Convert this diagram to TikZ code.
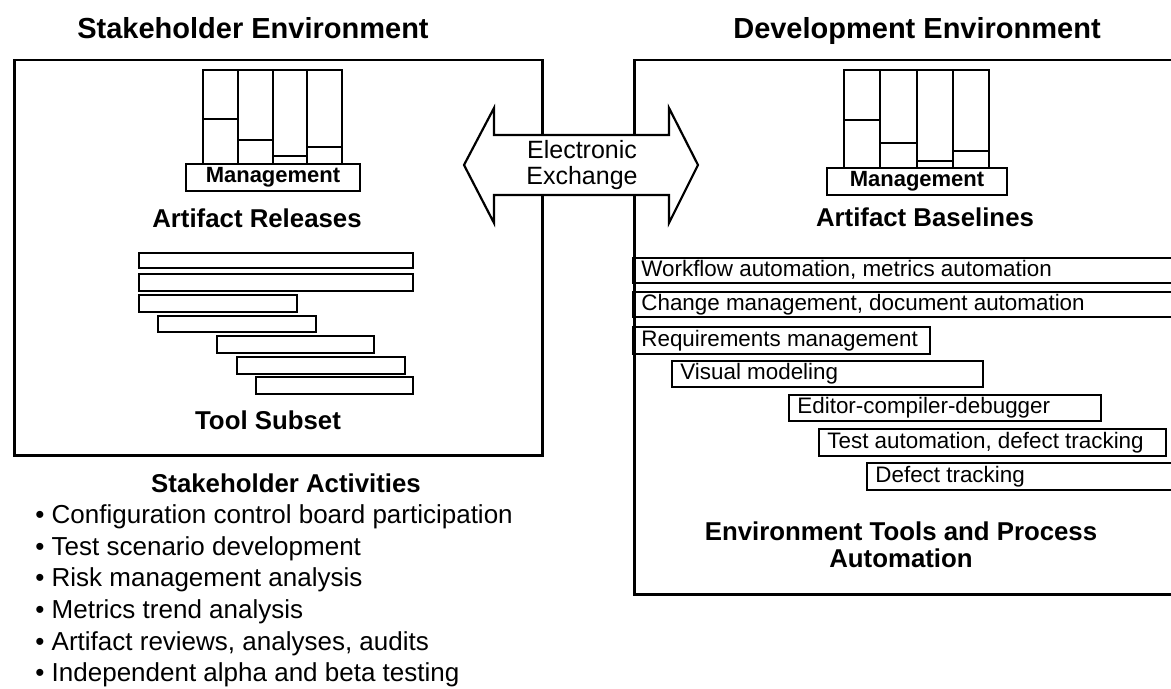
\documentclass[tikz,border=0pt]{standalone}
\usepackage{fontspec}
\setmainfont{Liberation Sans}
\usepackage{tikz}
\usetikzlibrary{positioning}

\begin{document}
\begin{tikzpicture}[
    x=0.5pt, y=-0.5pt,
    envbox/.style={draw, line width=1.25pt, anchor=north west},
    envtitle/.style={anchor=base, font=\bfseries\fontsize{14.5}{17}\selectfont},
    partname/.style={font=\bfseries\fontsize{12.9}{13.6}\selectfont, align=center},
    col/.style={draw, line width=1pt},
    mgmt/.style={draw, fill=white, line width=1pt, minimum width=#1, minimum height=13.5pt, inner sep=0pt, font=\bfseries\fontsize{11}{13}\selectfont},
    bar/.style={draw, line width=1.1pt},
    bartext/.style={anchor=west, inner xsep=4pt, text height=8pt, text depth=2.4pt, font=\fontsize{11.2}{13}\selectfont},
    item/.style={anchor=west, inner sep=0pt, font=\fontsize{13}{16}\selectfont},
    xchg/.style={draw, fill=white, line width=1.1pt, line join=miter},
]
    \path[use as bounding box, clip] (0,0) rectangle (1171,689);

    % Environments
    \node[envtitle] (stktitle) at (253,39) {Stakeholder Environment};
    \node[envtitle] (devtitle) at (917,39) {Development Environment};
    \node[envbox, minimum width=264pt, minimum height=197.5pt] (stkenv) at (13,59) {};
    \node[envbox, minimum width=290pt, minimum height=267pt] (devenv) at (633,59) {};

    % Artifact stacks
    \foreach \i/\h in {0/119, 1/140, 2/156, 3/147} {
        \draw[col] (203+\i*34.75,70) rectangle ++(34.75,96);
        \draw[col] (203+\i*34.75,\h) -- ++(34.75,0);
    }
    \foreach \i/\h in {0/120, 1/143, 2/161, 3/151} {
        \draw[col] (844+\i*36.25,70) rectangle ++(36.25,98);
        \draw[col] (844+\i*36.25,\h) -- ++(36.25,0);
    }
    \node[mgmt=87pt] (stkmgmt) at (273,177.5) {Management};
    \node[mgmt=90pt] (devmgmt) at (917,181.5) {Management};
    \node[partname] (releases) at (257,218) {Artifact Releases};
    \node[partname] (baselines) at (925,217) {Artifact Baselines};

    % Tool subset
    \foreach \xa/\xb/\ya/\yb in {139/413/253/268, 139/413/274/291, 139/297/295/312,
        158/316/316/332, 217/374/336/353, 237/405/357/374, 256/413/377/394}
        \draw[bar] (\xa,\ya) rectangle (\xb,\yb);
    \node[partname] (subset) at (268,420) {Tool Subset};

    % Environment tools
    \foreach \xa/\xb/\ya/\yb/\txt [count=\i] in {
        633/1190/258/283/{Workflow automation, metrics automation},
        633/1190/292/317/{Change management, document automation},
        633/930/327/354/{Requirements management},
        672/983/361/387/{Visual modeling},
        789/1101/395/421/{Editor-compiler-debugger},
        819/1166/429/456/{Test automation, defect tracking},
        867/1190/463/490/{Defect tracking}} {
        \draw[bar] (\xa,\ya) rectangle (\xb,\yb);
        \node[bartext] (tool\i) at (\xa,{(\ya+\yb)/2}) {\txt};
    }
    \node[partname] (envtools) at (901,545) {Environment Tools and Process\\Automation};

    % Exchange
    \draw[xchg] (464,165) -- (494,108) -- (494,135) -- (669,135) -- (669,108) -- (698,165)
        -- (669,223) -- (669,195) -- (494,195) -- (494,223) -- cycle;
    \node[align=center, font=\fontsize{12.5}{13}\selectfont] (exchange) at (582,165) {Electronic\\Exchange};

    % Activities
    \node[partname] (activities) at (286,483) {Stakeholder Activities};
    \foreach \txt [count=\i from 0] in {Configuration control board participation,
        Test scenario development, Risk management analysis, Metrics trend analysis,
        {Artifact reviews, analyses, audits}, Independent alpha and beta testing}
        \node[item] (act\i) at (35,517+31.6*\i) {\textbullet\ \txt};
\end{tikzpicture}
\end{document}
